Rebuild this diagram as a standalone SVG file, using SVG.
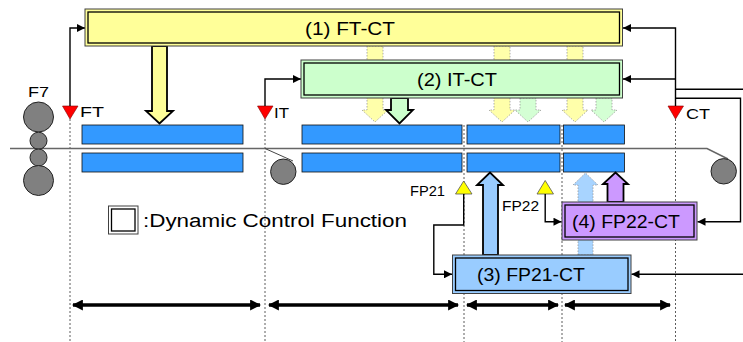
<svg xmlns="http://www.w3.org/2000/svg" width="743" height="342" viewBox="0 0 743 342">
<style>
  text { font-family: "Liberation Sans", Arial, sans-serif; fill: #000; }
  .lbl { font-size: 17.5px; }
  .sm { font-size: 15px; }
  .xs { font-size: 14px; }
  .outer { stroke: #404040; stroke-width: 1; }
  .inner { fill: none; stroke: #000; stroke-width: 1.3; }
  .seg { fill: #3399FF; stroke: #111; stroke-width: 0.8; }
  .roll { fill: #808080; stroke: #222; stroke-width: 1; }
  .dot { stroke: #333; stroke-width: 0.8; stroke-dasharray: 2,2; fill: none; }
  .conn { stroke: #000; stroke-width: 1.4; fill: none; }
  .dbl { stroke: #000; stroke-width: 3.5; fill: none; }
  .ghost { stroke: #999; stroke-width: 0.8; stroke-dasharray: 1.5,1.5; }
  .solid { stroke: #000; stroke-width: 1.8; stroke-linejoin: miter; }
</style>
<defs>
  <marker id="ah" viewBox="0 0 10 10" refX="10" refY="5" markerWidth="9" markerHeight="8" markerUnits="userSpaceOnUse" orient="auto">
    <path d="M0,0 L10,5 L0,10 z" fill="#000"/>
  </marker>
  <marker id="dh" viewBox="0 0 10 10" refX="9" refY="5" markerWidth="11" markerHeight="11" markerUnits="userSpaceOnUse" orient="auto-start-reverse">
    <path d="M0,0 L10,5 L0,10 z" fill="#000"/>
  </marker>
</defs>

<!-- dotted position lines -->
<g id="guides">
  <line class="dot" x1="70" y1="119" x2="70" y2="342"/>
  <line class="dot" x1="265" y1="119" x2="265" y2="342"/>
  <line class="dot" x1="464" y1="125" x2="464" y2="342"/>
  <line class="dot" x1="562" y1="125" x2="562" y2="342"/>
  <line class="dot" x1="675.5" y1="119" x2="675.5" y2="342"/>
</g>

<!-- cooling banks -->
<g id="banks">
  <rect class="seg" x="82" y="125" width="161" height="19"/>
  <rect class="seg" x="82" y="153" width="161" height="19"/>
  <rect class="seg" x="302" y="125" width="160" height="19"/>
  <rect class="seg" x="302" y="153" width="160" height="19"/>
  <rect class="seg" x="467" y="125" width="93" height="19"/>
  <rect class="seg" x="467" y="153" width="93" height="19"/>
  <rect class="seg" x="563.5" y="125" width="61" height="19"/>
  <rect class="seg" x="563.5" y="153" width="61" height="19"/>
</g>

<!-- strip and rolls -->
<g id="strip">
  <path d="M10,148.5 H707 L728,159" stroke="#666" stroke-width="1.5" fill="none"/>
  <path d="M265,148.5 L293,161" stroke="#444" stroke-width="1" fill="none"/>
</g>
<g id="F7">
  <circle class="roll" cx="38.5" cy="117" r="15"/>
  <circle class="roll" cx="38.5" cy="140.7" r="8.5"/>
  <circle class="roll" cx="38.5" cy="157.5" r="8.5"/>
  <circle class="roll" cx="38.5" cy="180.5" r="15"/>
  <text class="sm" x="28" y="97" textLength="21" lengthAdjust="spacingAndGlyphs">F7</text>
</g>
<g id="rollIT"><circle class="roll" cx="283.3" cy="171.7" r="12.7"/></g>
<g id="rollCT"><circle class="roll" cx="723.7" cy="171.3" r="12.7"/></g>

<!-- sensors -->
<g id="sensorFT">
  <polygon points="62.5,106 78,106 70,119" fill="#FF0000" stroke="#800000" stroke-width="0.6"/>
  <text class="sm" x="80" y="117" textLength="24" lengthAdjust="spacingAndGlyphs">FT</text>
</g>
<g id="sensorIT">
  <polygon points="257.5,106 273,106 265,119" fill="#FF0000" stroke="#800000" stroke-width="0.6"/>
  <text class="sm" x="274" y="118" textLength="15" lengthAdjust="spacingAndGlyphs">IT</text>
</g>
<g id="sensorCT">
  <polygon points="668,106 683.5,106 675.5,119" fill="#FF0000" stroke="#800000" stroke-width="0.6"/>
  <text class="sm" x="686" y="119" textLength="24" lengthAdjust="spacingAndGlyphs">CT</text>
</g>
<g id="sensorFP21">
  <polygon points="455.5,194 472,194 463.7,181" fill="#FFFF00" stroke="#555" stroke-width="0.8"/>
  <text class="xs" x="410" y="196" textLength="35" lengthAdjust="spacingAndGlyphs">FP21</text>
</g>
<g id="sensorFP22">
  <polygon points="537,194 553.5,194 545.2,180.5" fill="#FFFF00" stroke="#555" stroke-width="0.8"/>
  <text class="xs" x="502" y="211" textLength="37" lengthAdjust="spacingAndGlyphs">FP22</text>
</g>

<!-- connectors -->
<g id="connectors">
  <polyline class="conn" points="70,106 70,28 85,28" marker-end="url(#ah)"/>
  <polyline class="conn" points="265,106 265,79 301,79" marker-end="url(#ah)"/>
  <polyline class="conn" points="675.5,106 675.5,28 623,28" marker-end="url(#ah)"/>
  <line class="conn" x1="675.5" y1="79" x2="623" y2="79" marker-end="url(#ah)"/>
  <line class="conn" x1="675.5" y1="89.3" x2="743" y2="89.3"/>
  <polyline class="conn" points="675.5,98.3 740.5,98.3 740.5,221.7 697.5,221.7" marker-end="url(#ah)"/>
  <line class="conn" x1="743" y1="274.3" x2="631.5" y2="274.3" marker-end="url(#ah)"/>
  <polyline class="conn" points="463.7,194 463.7,225 433.8,225 433.8,274.3 452,274.3" marker-end="url(#ah)"/>
  <polyline class="conn" points="545.2,194 545.2,221.7 561.5,221.7" marker-end="url(#ah)"/>
  <line class="dbl" x1="73" y1="305" x2="260" y2="305" marker-start="url(#dh)" marker-end="url(#dh)"/>
  <line class="dbl" x1="269" y1="305" x2="458" y2="305" marker-start="url(#dh)" marker-end="url(#dh)"/>
  <line class="dbl" x1="467" y1="305" x2="558" y2="305" marker-start="url(#dh)" marker-end="url(#dh)"/>
  <line class="dbl" x1="565" y1="305" x2="670" y2="305" marker-start="url(#dh)" marker-end="url(#dh)"/>
</g>

<!-- ghost (indirect) action arrows -->
<g id="ghostArrows">
  <path class="ghost" fill="#FFFFAA" d="M367,46 V110 H362 L375,122 L388,110 H383 V46 Z"/>
  <path class="ghost" fill="#FFFFAA" d="M494,46 V110 H489 L502,122 L515,110 H510 V46 Z"/>
  <path class="ghost" fill="#FFFFAA" d="M567,46 V110 H562 L575,122 L588,110 H583 V46 Z"/>
  <path class="ghost" fill="#D4FFD4" d="M520,98 V110 H515 L528,122 L541,110 H536 V98 Z"/>
  <path class="ghost" fill="#D4FFD4" d="M596,98 V110 H591 L604,122 L617,110 H612 V98 Z"/>
  <path class="ghost" fill="#A8D4FF" d="M578,255 V185 H573 L585.5,173 L598,185 H593 V255 Z"/>
</g>

<!-- direct action arrows -->
<g id="directArrows">
  <path class="solid" fill="#FFFF99" d="M152,46 V111 H146 L159.5,123.5 L173,111 H167 V46 Z"/>
  <path class="solid" fill="#CCFFCC" d="M391,98 V110 H386 L399.5,123.5 L413,110 H408 V98 Z"/>
  <path class="solid" fill="#99CCFF" d="M483,255 V185 H477 L490,172.5 L503,185 H498 V255 Z"/>
  <path class="solid" fill="#CC99FF" d="M607.5,202 V184 H603 L615.5,172.5 L628,184 H623.5 V202 Z"/>
</g>

<!-- control function boxes -->
<g id="box1">
  <rect class="outer" x="85" y="9" width="537.5" height="37" fill="#FFFF99"/>
  <rect class="inner" x="88" y="12" width="531.5" height="31"/>
  <text class="lbl" x="305" y="35" textLength="90" lengthAdjust="spacingAndGlyphs">(1) FT-CT</text>
</g>
<g id="box2">
  <rect class="outer" x="301" y="60" width="321.5" height="38" fill="#CCFFCC"/>
  <rect class="inner" x="304" y="63" width="315.5" height="32"/>
  <text class="lbl" x="417" y="86" textLength="80" lengthAdjust="spacingAndGlyphs">(2) IT-CT</text>
</g>
<g id="box4">
  <rect class="outer" x="562" y="202" width="135" height="38" fill="#CC99FF"/>
  <rect class="inner" x="565" y="205" width="129" height="32"/>
  <text class="lbl" x="572" y="228" textLength="108" lengthAdjust="spacingAndGlyphs">(4) FP22-CT</text>
</g>
<g id="box3">
  <rect class="outer" x="452.5" y="255" width="178.5" height="38.5" fill="#99CCFF"/>
  <rect class="inner" x="455.5" y="258" width="172.5" height="32.5"/>
  <text class="lbl" x="477" y="281" textLength="108" lengthAdjust="spacingAndGlyphs">(3) FP21-CT</text>
</g>

<!-- legend -->
<g id="legend">
  <rect class="outer" x="108.5" y="206" width="29.5" height="28" fill="#FFFFFF"/>
  <rect class="inner" x="111.5" y="209" width="23.5" height="22"/>
  <text x="143" y="227" font-size="18" textLength="264" lengthAdjust="spacingAndGlyphs">:Dynamic Control Function</text>
</g>
</svg>
